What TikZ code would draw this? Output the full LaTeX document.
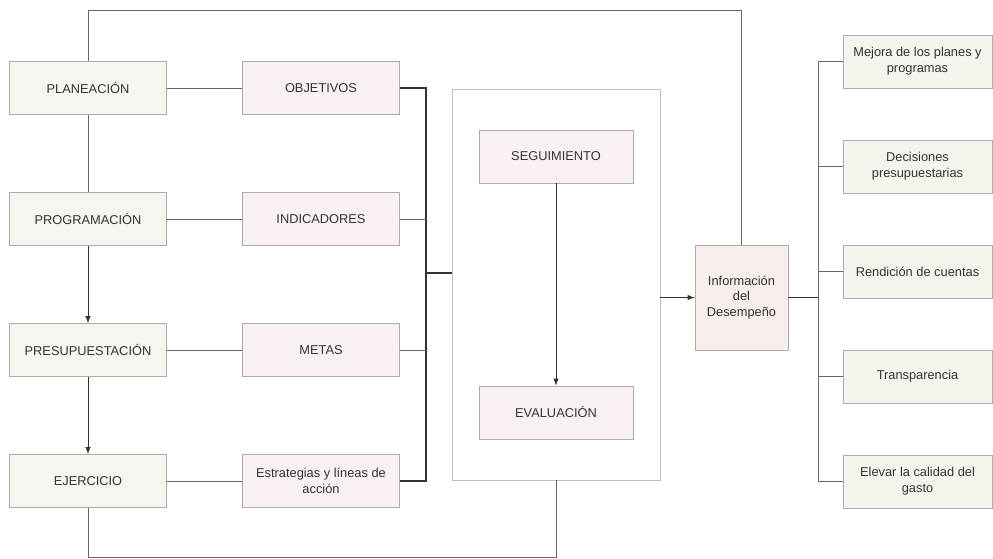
\documentclass[tikz,border=0pt]{standalone}
\usepackage{fontspec}
\setmainfont{Liberation Sans}
\usetikzlibrary{shapes,arrows,positioning,calc}

\definecolor{phasefill}{HTML}{F4F6F0}
\definecolor{itemfill}{HTML}{F9F1F1}
\definecolor{evalfill}{HTML}{F8F0F2}
\definecolor{infofill}{HTML}{F7EEEC}
\definecolor{usefill}{HTML}{F2F5EC}

\begin{document}
\begin{tikzpicture}[->,>=latex]

\tikzstyle{box} = [draw=gray!65, rectangle, minimum height=1.06cm, minimum width=3.14cm, align=center, inner sep=1pt, text=black!80, font={\fontsize{7.3}{9}\selectfont}, node distance=2.62cm]
\tikzstyle{phase} = [box, fill=phasefill]
\tikzstyle{item} = [box, fill=itemfill, node distance=4.66cm]
\tikzstyle{stage} = [box, fill=evalfill, minimum width=3.08cm, node distance=5.12cm]
\tikzstyle{use} = [box, fill=usefill, minimum width=2.98cm, node distance=2.1cm]
\tikzstyle{link} = [-, black!60, thin]
\tikzstyle{bus} = [-, black!80, semithick]
\tikzstyle{flow} = [->, black!80, thin]

\useasboundingbox (0,0) rectangle (19.86,-11.18);

% ciclo presupuestario
\node[phase, name=plan] at (1.76,-1.76) {PLANEACIÓN};
\node[phase, name=prog, below of=plan] {PROGRAMACIÓN};
\node[phase, name=pres, below of=prog] {PRESUPUESTACIÓN};
\node[phase, name=ejer, below of=pres] {EJERCICIO};

\node[item, name=obj, right of=plan] {OBJETIVOS};
\node[item, name=ind, right of=prog] {INDICADORES};
\node[item, name=metas, right of=pres] {METAS};
\node[item, name=estr, right of=ejer] {Estrategias y líneas de\\acción};

% seguimiento y evaluacion
\node[draw=gray!50, minimum width=4.16cm, minimum height=7.82cm, name=ctrl] at (11.12,-5.69) {};
\node[stage, name=seg] at (11.12,-3.13) {SEGUIMIENTO};
\node[stage, name=eval, below of=seg] {EVALUACIÓN};

\node[box, fill=infofill, name=info, minimum width=1.86cm, minimum height=2.1cm] at (14.83,-5.95) {Información\\del\\Desempeño};

% usos de la informacion
\node[use, name=mejora] at (18.35,-1.23) {Mejora de los planes y\\programas};
\node[use, name=decis, below of=mejora] {Decisiones\\presupuestarias};
\node[use, name=rend, below of=decis] {Rendición de cuentas};
\node[use, name=transp, below of=rend] {Transparencia};
\node[use, name=elevar, below of=transp] {Elevar la calidad del\\gasto};

\coordinate (lbus) at (8.52,-5.46);
\coordinate (rbus) at (16.36,0);
\coordinate (top) at (0,-0.2);
\coordinate (bot) at (0,-11.14);

\draw[link] (plan) -- (obj);
\draw[link] (prog) -- (ind);
\draw[link] (pres) -- (metas);
\draw[link] (ejer) -- (estr);
\draw[link] (plan) -- (prog);
\draw[flow] (prog) -- (pres);
\draw[flow] (pres) -- (ejer);

\draw[bus] (obj.east) -| (lbus) |- (estr.east);
\draw[link] (ind.east) -- (ind.east -| lbus);
\draw[link] (metas.east) -- (metas.east -| lbus);
\draw[bus] (lbus) -- (lbus -| ctrl.west);

\draw[flow] (seg) -- (eval);
\draw[flow] (ctrl.east |- info.west) -- (info.west);

\draw[link] (info.north) |- (top -| plan) -- (plan.north);
\draw[link] (ejer.south) -- (ejer.south |- bot) -| (ctrl.south);

\draw[bus] (info.east) -- (info.east -| rbus);
\draw[link] (mejora.west -| rbus) -- (elevar.west -| rbus);
\draw[link] (mejora.west -| rbus) -- (mejora.west);
\draw[link] (decis.west -| rbus) -- (decis.west);
\draw[link] (rend.west -| rbus) -- (rend.west);
\draw[link] (transp.west -| rbus) -- (transp.west);
\draw[link] (elevar.west -| rbus) -- (elevar.west);

\end{tikzpicture}
\end{document}
